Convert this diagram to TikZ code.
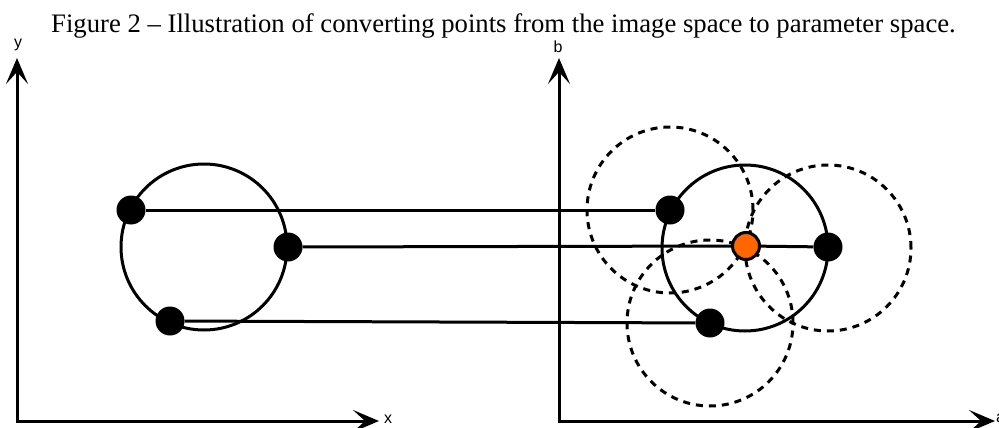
\documentclass[tikz,border=0pt]{standalone}
\usepackage{fontspec}
\setmainfont{Liberation Serif}
\newfontfamily\labelfont{Liberation Sans}
\usetikzlibrary{arrows.meta}
\definecolor{dotorange}{HTML}{FF6600}
\begin{document}
\begin{tikzpicture}[x=1pt,y=-1pt,
  axis/.style={line width=3pt, line join=miter,
    {Stealth[length=26pt,width=22pt,inset=12pt]}-{Stealth[length=26pt,width=22pt,inset=12pt]}},
  ring/.style={circle, draw, line width=3pt, minimum size=166pt, inner sep=0pt},
  dashring/.style={line width=3pt, dash pattern=on 7pt off 6pt},
  dot/.style={circle, fill=black, minimum size=29pt, inner sep=0pt},
  hotdot/.style={circle, fill=dotorange, draw=black, line width=3pt, minimum size=27pt, inner sep=0pt},
  link/.style={line width=3pt},
  axlabel/.style={font=\labelfont\fontsize{16}{18}\selectfont, inner sep=0pt},
  title/.style={font=\fontsize{26.7}{30}\selectfont, inner sep=0pt}
]
\useasboundingbox (0,0) rectangle (999,428);
\node[title, anchor=base] (ttl) at (503.5,33) {Figure 2 -- Illustration of converting points from the image space to parameter space.};
% left axes
\coordinate (ly) at (17,58);
\coordinate (lo) at (17,421);
\coordinate (lx) at (379,421);
\draw[axis] (ly) -- (lo) -- (lx);
\node[axlabel] (ylab) at (18,45) {y};
\node[axlabel] (xlab) at (388,419) {x};
% right axes
\coordinate (ry) at (559,58);
\coordinate (ro) at (559,421);
\coordinate (rx) at (995,421);
\draw[axis] (ry) -- (ro) -- (rx);
\node[axlabel] (blab) at (558,47) {b};
\node[axlabel, anchor=west] (alab) at (996,418) {a};
% circles
\node[ring] (cimg) at (204,247) {};
\node[ring] (cpar) at (745,248) {};
% dashed circles
\draw[dashring] (670,210) circle[radius=83pt];
\draw[dashring] (828,248) circle[radius=83pt];
\draw[dashring] (710,323) circle[radius=83pt];
% points
\node[dot] (p1) at (131,210) {};
\node[dot] (p2) at (288,247) {};
\node[dot] (p3) at (170,321) {};
\node[dot] (q1) at (670,210) {};
\node[dot] (q2) at (828,247) {};
\node[dot] (q3) at (710,323) {};
\node[hotdot] (hc) at (746,246) {};
% connectors
\draw[link] (p1) -- (q1);
\draw[link] (p2) -- (hc);
\draw[link] (hc) -- (q2);
\draw[link] (p3) -- (q3);
\end{tikzpicture}
\end{document}
